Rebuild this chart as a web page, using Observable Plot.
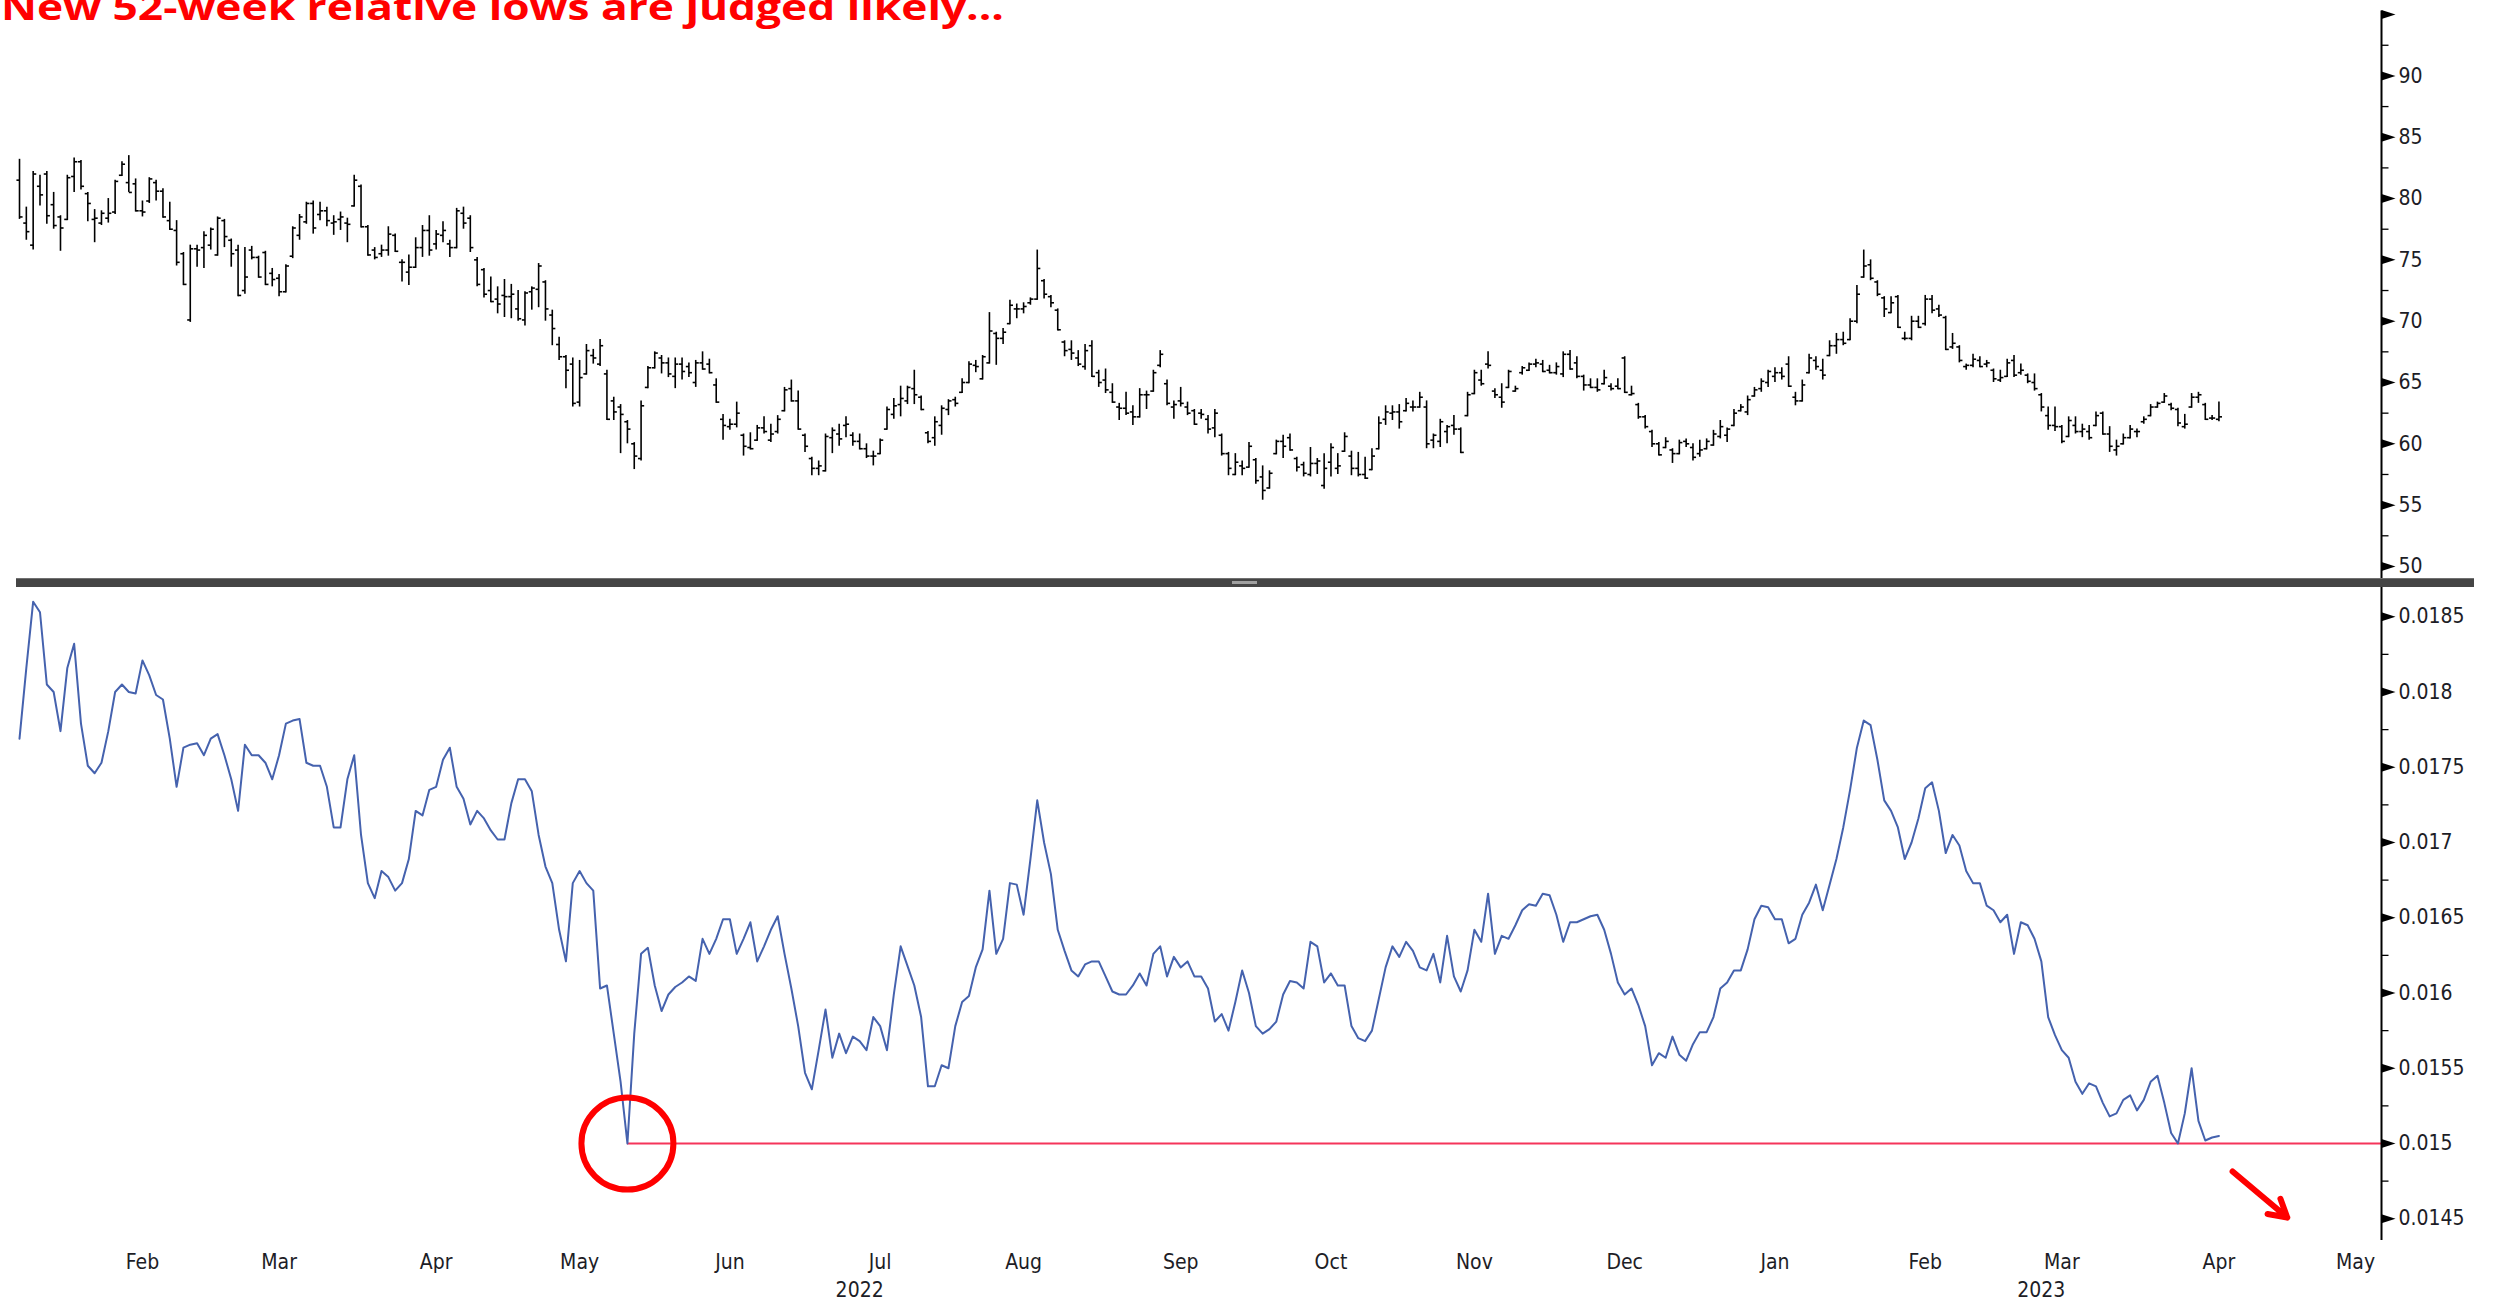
<!DOCTYPE html>
<html>
<head>
<meta charset="utf-8">
<script src="https://cdn.jsdelivr.net/npm/d3@7"></script>
<script src="https://cdn.jsdelivr.net/npm/@observablehq/plot@0.6"></script>
<style>
  html, body { margin: 0; padding: 0; background: #ffffff; }
  #wrap { position: relative; width: 2495px; height: 1304px; overflow: hidden; background: #fff; }
  #topPanel { position: absolute; left: 0; top: 0; }
  #bottomPanel { position: absolute; left: 0; top: 583px; }
  #sep { position: absolute; left: 16px; top: 578px; width: 2458px; height: 9px; background: #454545; border-top: 1px solid #707070; box-sizing: border-box; }
  #grip { position: absolute; left: 1232px; top: 581px; width: 25px; height: 3px; background: #a0a0a0; }
  #title { position: absolute; left: 0; top: 0; }
</style>
</head>
<body>
<div id="wrap">
  <div id="topPanel"></div>
  <div id="bottomPanel"></div>
  <div id="sep"></div>
  <div id="grip"></div>
  <svg id="title" width="1100" height="40"></svg>
</div>
<script>
// ---------- DATA ----------
const titleText = "New 52-week relative lows are judged likely...";
const firstDay = "2022-01-06";   // first trading day shown (weekday sequence)

// daily OHLC bars (top panel)
const openP = [
81.5,78.0,76.2,81.0,82.0,79.5,78.5,78.3,81.8,83.0,
80.4,78.3,78.0,78.4,78.9,81.9,81.3,81.2,79.0,79.8,
81.3,80.6,78.2,77.4,75.5,70.1,75.9,76.0,76.2,75.4,
78.2,76.6,75.8,72.5,75.8,75.2,75.6,73.9,73.5,72.4,
75.3,77.0,78.1,79.6,78.7,79.0,78.0,78.3,78.0,79.4,
81.0,77.7,75.8,75.5,75.8,77.0,74.8,74.0,74.4,76.0,
77.4,76.3,77.0,76.3,76.0,78.8,78.4,75.0,74.2,72.5,
71.8,72.1,72.0,71.0,70.1,72.4,72.6,73.2,70.5,68.1,
67.1,66.5,63.4,65.7,67.2,66.5,65.7,63.5,63.0,61.8,
60.0,58.8,64.6,66.2,67.0,66.6,65.5,66.5,66.3,65.0,
66.6,66.5,64.8,62.0,61.4,61.6,60.7,59.7,60.3,61.3,
60.3,61.0,62.7,64.5,63.5,60.7,58.8,58.0,57.8,60.5,
60.8,61.5,60.7,60.2,59.6,59.0,59.2,61.2,62.4,63.2,
63.5,64.5,63.8,60.9,60.5,61.5,62.8,63.6,64.2,65.0,
66.4,65.3,66.6,69.0,68.6,69.8,71.0,71.0,71.5,71.8,
73.3,72.0,70.9,68.3,67.7,67.0,66.3,68.0,65.8,65.2,
64.2,63.0,62.9,62.6,62.2,64.0,64.3,66.4,64.9,63.0,
63.5,63.0,62.7,62.5,62.0,61.3,60.7,59.2,57.5,58.2,
58.1,58.7,57.3,56.4,59.2,60.2,60.5,58.8,58.3,57.5,
58.4,56.6,58.5,58.0,59.4,59.0,58.0,57.5,57.9,59.6,
62.0,62.5,62.6,62.7,63.0,63.0,63.0,60.3,60.2,61.0,
61.5,61.2,62.3,64.1,65.2,66.5,64.3,63.8,64.6,64.3,
65.8,66.0,66.5,66.5,66.0,65.8,65.7,67.3,66.6,65.5,
64.8,64.6,64.9,64.7,64.7,67.0,64.0,63.2,62.2,61.0,
60.0,59.7,59.5,59.2,60.2,59.7,59.2,59.6,59.9,60.6,
60.7,61.5,62.7,62.6,63.9,64.5,65.0,65.5,65.8,66.5,
63.8,63.5,65.8,66.8,66.0,67.2,68.0,68.5,68.5,70.0,
73.6,74.6,73.2,71.9,70.7,72.0,68.6,68.6,70.0,69.8,
71.8,71.0,70.3,67.9,67.9,66.3,66.4,66.8,66.5,66.0,
65.2,65.5,66.8,65.8,65.6,65.0,64.0,62.3,61.5,61.4,
60.6,61.5,61.0,61.0,61.5,62.5,60.8,59.5,60.0,60.5,
61.0,61.8,62.3,63.0,63.4,63.2,62.8,61.4,63.0,63.8,
63.2,62.1,62.0];
const highP = [
83.2,79.3,82.2,81.9,82.2,80.5,78.6,81.9,83.3,83.1,
80.5,79.1,79.0,80.0,81.5,83.0,83.5,81.6,79.8,81.7,
81.5,80.8,79.7,78.2,75.6,76.2,76.2,77.3,77.6,78.5,
78.3,76.7,76.2,76.0,76.1,75.3,75.7,74.3,73.8,74.6,
77.7,78.7,79.7,79.8,79.7,79.3,78.6,78.9,78.4,81.9,
81.1,77.8,76.0,76.2,77.7,77.1,75.0,75.4,76.8,77.8,
78.6,77.4,78.1,76.6,79.2,79.3,78.6,75.2,74.3,73.6,
72.8,73.4,73.0,72.5,72.4,72.8,74.7,73.3,70.9,68.7,
67.2,67.0,66.8,68.1,67.7,68.5,66.0,63.8,63.2,61.9,
60.1,63.5,66.3,67.5,67.2,67.0,67.0,67.0,66.6,66.8,
67.5,66.9,65.3,62.4,62.0,63.4,60.8,60.9,61.5,62.2,
61.6,62.3,64.6,65.2,64.3,60.8,58.9,58.6,60.8,61.3,
61.6,62.2,60.9,60.8,60.0,59.4,60.4,63.0,63.7,64.7,
64.7,66.0,63.9,61.0,62.2,63.1,63.6,63.8,65.3,66.7,
66.8,67.2,70.7,69.1,69.4,71.7,71.4,71.5,71.9,75.8,
73.4,72.1,71.0,68.4,68.4,67.6,68.1,68.4,66.0,66.1,
64.9,63.3,64.2,63.1,64.5,64.3,66.0,67.6,65.2,63.5,
64.6,63.4,62.8,62.8,62.3,62.8,60.8,59.3,59.2,58.6,
60.1,58.8,58.2,57.8,60.3,60.7,60.8,58.9,58.5,59.7,
58.8,59.2,60.0,59.2,60.9,59.4,59.3,58.9,59.6,62.2,
63.1,63.1,63.2,63.7,63.5,64.2,63.5,60.8,62.0,61.5,
62.3,61.3,64.2,66.0,66.0,67.5,64.5,64.9,66.0,64.7,
66.3,66.6,66.9,66.8,66.4,66.6,67.5,67.6,67.1,65.6,
65.3,65.3,66.0,64.9,65.3,67.1,64.7,63.3,62.3,61.1,
60.1,60.5,59.6,60.3,60.4,60.0,60.3,60.4,61.1,61.9,
61.3,62.8,63.2,63.9,64.6,65.3,66.0,66.2,66.2,67.1,
64.2,65.2,67.3,67.1,66.9,68.4,69.0,69.1,70.2,72.9,
75.8,75.0,73.3,72.0,72.0,72.1,69.1,70.4,70.4,72.1,
72.1,71.3,70.4,69.0,68.0,66.5,67.3,67.1,66.8,66.1,
66.0,66.9,67.2,66.5,65.7,65.7,64.1,63.0,63.0,61.5,
62.2,62.2,61.6,61.5,62.6,62.6,61.4,60.3,60.8,61.5,
61.2,62.2,63.2,63.4,64.1,63.3,62.9,62.4,64.1,64.2,
63.3,62.3,63.4];
const lowP = [
78.3,76.6,75.8,79.4,77.9,77.5,75.7,78.2,80.5,80.7,
78.1,76.4,77.8,78.0,78.7,81.8,80.5,78.9,78.5,79.6,
79.8,78.4,77.4,74.5,72.9,69.9,74.4,74.3,75.8,75.3,
76.0,74.4,72.0,72.2,75.0,73.5,72.9,72.8,72.0,72.3,
75.1,76.6,77.9,77.1,78.2,77.7,77.0,77.4,76.4,79.3,
77.6,75.3,75.0,75.2,75.3,75.6,73.2,72.9,74.3,75.2,
75.3,75.8,76.4,75.2,75.9,77.5,75.6,72.8,71.9,71.5,
70.6,70.3,70.2,70.0,69.6,70.9,71.1,70.0,68.0,66.8,
64.5,63.0,63.0,65.6,66.5,66.3,61.9,61.9,59.2,60.0,
57.9,58.6,64.5,66.1,65.7,65.4,64.5,65.2,65.4,64.6,
66.0,65.7,63.3,60.3,61.1,61.3,59.0,59.5,60.2,60.8,
60.1,60.8,62.6,63.4,61.1,59.3,57.4,57.4,57.7,59.2,
59.8,60.5,59.8,59.5,58.8,58.2,59.1,61.1,62.0,62.2,
63.2,63.2,62.7,60.0,59.8,60.7,62.3,63.0,64.1,64.9,
65.8,65.2,66.5,66.4,68.1,69.7,70.2,70.6,71.3,71.7,
71.8,71.1,69.2,67.1,66.8,66.3,66.0,65.4,64.6,64.1,
63.3,61.9,62.3,61.5,62.1,62.8,64.2,66.2,63.1,62.0,
63.0,62.3,61.5,62.0,60.8,60.5,59.0,57.4,57.4,57.4,
58.0,56.7,55.4,56.3,59.1,58.8,59.4,57.7,57.3,57.3,
57.5,56.3,57.3,57.5,59.3,57.4,57.3,57.1,57.8,59.5,
61.5,61.9,61.2,62.6,62.6,62.9,59.6,59.6,59.7,60.0,
60.7,59.2,62.2,64.0,64.7,66.1,63.7,62.9,64.5,64.2,
65.6,65.9,66.2,65.8,65.7,65.6,65.4,66.0,65.3,64.3,
64.5,64.2,64.8,64.3,64.4,64.1,63.9,62.0,61.2,59.7,
59.0,59.6,58.4,59.1,59.7,58.6,58.9,59.5,59.8,60.4,
60.1,61.4,62.6,62.3,63.8,64.2,64.6,65.0,65.2,64.6,
63.1,63.4,65.7,66.0,65.2,67.1,67.3,68.0,68.4,69.8,
73.5,73.3,72.0,70.3,70.6,69.4,68.4,68.4,69.4,69.6,
70.6,70.3,67.6,67.7,66.6,66.0,66.2,66.2,66.2,65.0,
65.0,65.4,65.4,65.6,64.9,64.3,62.6,61.1,61.0,60.0,
60.5,60.8,60.5,60.3,61.4,60.7,59.3,59.0,59.9,60.4,
60.5,61.6,62.2,62.9,63.3,62.7,61.4,61.2,62.9,63.3,
61.9,61.9,61.8];
const closeP = [
78.5,77.3,82.0,80.3,78.6,77.8,77.6,81.7,83.0,81.0,
79.6,78.4,78.8,78.8,81.4,82.8,80.5,79.0,78.9,81.6,
80.6,78.5,77.5,74.8,73.0,75.9,75.8,77.0,77.5,78.4,
76.9,75.5,72.1,73.6,75.2,73.6,73.0,73.4,72.4,74.5,
77.6,78.5,79.6,77.6,79.0,78.2,78.1,78.5,77.9,81.5,
77.7,75.4,75.2,75.8,77.1,75.7,74.8,74.4,76.0,77.4,
75.8,77.1,77.4,76.0,79.0,78.0,76.0,73.0,72.2,71.6,
71.4,72.0,72.2,70.2,72.3,72.7,74.5,71.0,69.4,67.1,
66.0,63.3,65.4,67.6,67.0,68.0,62.0,62.6,62.4,61.2,
59.0,63.1,66.2,67.4,66.6,65.7,66.5,65.9,65.8,66.6,
66.1,65.8,63.4,61.5,61.6,62.5,59.8,59.6,61.3,61.0,
60.8,62.0,64.4,63.5,61.2,59.8,58.0,58.2,60.6,61.1,
60.4,61.6,60.2,59.6,59.0,59.0,60.3,62.8,63.1,63.7,
64.6,64.0,62.8,60.2,61.8,62.9,63.5,63.3,65.0,66.5,
66.3,67.1,69.2,68.6,69.1,71.3,71.0,71.2,71.8,74.3,
72.2,71.5,69.3,67.6,67.4,66.5,67.6,65.5,65.0,64.4,
63.4,62.9,62.5,62.2,64.0,64.0,65.8,67.3,63.3,63.2,
63.3,62.5,61.6,62.4,61.2,62.5,59.2,58.0,58.5,58.0,
59.8,57.0,56.2,57.6,60.2,59.8,59.5,58.1,57.6,58.4,
58.6,58.0,59.7,58.2,60.6,58.0,57.5,57.2,59.0,61.7,
62.6,62.6,61.8,63.3,63.0,63.8,60.0,60.7,61.8,61.4,
61.2,59.3,64.0,65.8,64.9,66.4,64.0,63.4,65.9,64.5,
66.2,66.5,66.6,65.9,65.8,66.3,67.3,66.1,65.5,64.8,
64.6,64.4,65.4,64.5,64.5,64.2,64.1,62.2,61.4,60.0,
59.1,60.2,59.2,60.1,60.0,58.9,59.5,60.2,60.8,61.4,
61.2,62.5,63.0,63.6,64.4,65.1,65.9,65.8,65.5,64.7,
63.5,64.8,67.0,66.3,65.6,68.0,68.5,68.2,70.0,72.2,
74.5,73.5,72.2,71.0,71.5,69.5,68.6,70.0,69.5,71.8,
70.9,70.5,67.7,68.2,66.8,66.4,66.9,66.3,66.6,65.3,
65.4,66.6,65.6,66.0,65.1,64.5,63.0,61.5,61.4,60.2,
61.9,61.0,61.2,60.5,62.3,60.8,59.8,59.8,60.5,61.2,
61.0,62.0,63.0,63.3,63.9,62.9,61.7,61.6,63.8,64.0,
62.0,62.1,62.2];

// relative performance line (bottom panel)
const relPerf = [
.01769,.01816,.01860,.01853,.01805,.01800,.01774,.01816,.01832,.01779,
.01751,.01746,.01753,.01774,.01800,.01805,.01800,.01799,.01821,.01811,
.01798,.01795,.01769,.01737,.01763,.01765,.01766,.01758,.01769,.01772,
.01758,.01742,.01721,.01765,.01758,.01758,.01753,.01742,.01758,.01779,
.01781,.01782,.01753,.01751,.01751,.01737,.01710,.01710,.01742,.01758,
.01705,.01673,.01663,.01681,.01677,.01668,.01673,.01689,.01721,.01718,
.01735,.01737,.01755,.01763,.01737,.01729,.01712,.01721,.01716,.01708,
.01702,.01702,.01726,.01742,.01742,.01734,.01705,.01684,.01673,.01642,
.01621,.01673,.01681,.01673,.01668,.01603,.01605,.01573,.01541,.01500,
.01573,.01626,.01630,.01605,.01588,.01599,.01604,.01607,.01611,.01608,
.01636,.01626,.01636,.01649,.01649,.01626,.01636,.01647,.01621,.01631,
.01642,.01651,.01626,.01603,.01578,.01547,.01536,.01562,.01589,.01557,
.01573,.01560,.01571,.01568,.01562,.01584,.01578,.01562,.01599,.01631,
.01618,.01605,.01584,.01538,.01538,.01552,.01550,.01578,.01594,.01598,
.01617,.01629,.01668,.01626,.01636,.01673,.01672,.01652,.01689,.01728,
.01700,.01679,.01642,.01628,.01615,.01611,.01619,.01621,.01621,.01611,
.01601,.01599,.01599,.01605,.01613,.01605,.01626,.01631,.01611,.01624,
.01617,.01621,.01611,.01611,.01603,.01581,.01586,.01575,.01594,.01615,
.01600,.01578,.01573,.01576,.01581,.01599,.01608,.01607,.01603,.01634,
.01631,.01607,.01613,.01605,.01605,.01578,.01570,.01568,.01575,.01596,
.01617,.01631,.01624,.01634,.01628,.01617,.01615,.01626,.01607,.01638,
.01611,.01601,.01615,.01642,.01634,.01666,.01626,.01638,.01636,.01645,
.01655,.01659,.01658,.01666,.01665,.01652,.01634,.01647,.01647,.01649,
.01651,.01652,.01642,.01626,.01607,.01599,.01603,.01592,.01578,.01552,
.01560,.01557,.01571,.01559,.01555,.01566,.01574,.01574,.01584,.01603,
.01607,.01615,.01615,.01629,.01649,.01658,.01657,.01649,.01649,.01633,
.01636,.01652,.01660,.01672,.01655,.01672,.01689,.01710,.01735,.01763,
.01781,.01778,.01755,.01728,.01721,.01710,.01689,.01700,.01716,.01736,
.01740,.01721,.01693,.01705,.01698,.01681,.01673,.01673,.01658,.01655,
.01647,.01652,.01626,.01647,.01645,.01636,.01621,.01584,.01572,.01562,
.01557,.01541,.01533,.01540,.01538,.01527,.01518,.01520,.01529,.01532,
.01522,.01529,.01541,.01545,.01527,.01507,.01500,.01520,.01550,.01515,
.01502,.01504,.01505];

// axis ticks
const priceMajor = [50, 55, 60, 65, 70, 75, 80, 85, 90, 95];
const priceLabels = [50, 55, 60, 65, 70, 75, 80, 85, 90];
const priceMinor = [52.5, 57.5, 62.5, 67.5, 72.5, 77.5, 82.5, 87.5, 92.5];
const relMajor = [0.0145, 0.015, 0.0155, 0.016, 0.0165, 0.017, 0.0175, 0.018, 0.0185];
const relMinor = [0.01475, 0.01525, 0.01575, 0.01625, 0.01675, 0.01725, 0.01775, 0.01825];
const monthStarts = ["2022-02-01","2022-03-01","2022-04-01","2022-05-01","2022-06-01","2022-07-01",
  "2022-08-01","2022-09-01","2022-10-01","2022-11-01","2022-12-01","2023-01-01","2023-02-01",
  "2023-03-01","2023-04-01","2023-05-01"];
const yearLabels = [{label: "2022", date: "2022-06-28"}, {label: "2023", date: "2023-02-24"}];
// annotation arrow (dates / values)
const arrowNote = [{from: "2023-04-05", fromV: 0.014814, to: "2023-04-17", toV: 0.014508}];

// ---------- helpers ----------
const days = [];
for (let t = Date.parse(firstDay + "T00:00:00Z"); t <= Date.parse("2023-06-30T00:00:00Z"); t += 864e5) {
  const wd = new Date(t).getUTCDay();
  if (wd !== 0 && wd !== 6) days.push(t);
}
const dayIndex = (s) => d3.bisectLeft(days, Date.parse(s + "T00:00:00Z"));
const fmtMonth = d3.utcFormat("%b");

const bars = closeP.map((c, i) => ({i, open: openP[i], high: highP[i], low: lowP[i], close: c}));
const lowIdx = d3.minIndex(relPerf);
const lowVal = relPerf[lowIdx];
const months = monthStarts.map(s => ({label: fmtMonth(new Date(s + "T00:00:00Z")), pos: dayIndex(s)}));
const years = yearLabels.map(d => ({label: d.label, pos: dayIndex(d.date)}));
const arrows = arrowNote.map(d => ({x1: dayIndex(d.from), y1: d.fromV, x2: dayIndex(d.to), y2: d.toV}));

const W = 2495;
const xDomain = [-0.44, 345.8];
const flag = { draw(ctx) { ctx.moveTo(0, -4.5); ctx.lineTo(14, 0); ctx.lineTo(0, 4.5); ctx.closePath(); } };
const minorTick = { draw(ctx) { ctx.moveTo(0, 0); ctx.lineTo(7, 0); } };
const axisFont = {fontFamily: "DejaVu Sans", fontSize: 21, fill: "#1d1d26"};

const topChart = Plot.plot({
  width: W, height: 583, marginTop: 0, marginBottom: 0, marginLeft: 16, marginRight: 114,
  style: {background: "transparent", overflow: "visible"},
  x: {domain: xDomain, axis: null},
  y: {domain: [48.61, 96.15], axis: null},
  marks: [
    Plot.ruleX(bars, {x: "i", y1: "low", y2: "high", stroke: "#000", strokeWidth: 1.6}),
    Plot.link(bars, {x1: d => d.i - 0.45, x2: "i", y1: "open", y2: "open", stroke: "#000", strokeWidth: 1.6}),
    Plot.link(bars, {x1: "i", x2: d => d.i + 0.45, y1: "close", y2: "close", stroke: "#000", strokeWidth: 1.6}),
    Plot.ruleX([xDomain[1]], {y1: 48.61, y2: 95.3, stroke: "#000", strokeWidth: 2}),
    Plot.dot(priceMajor, {y: d => d, frameAnchor: "right", symbol: flag, fill: "#000", stroke: "none"}),
    Plot.dot(priceMinor, {y: d => d, frameAnchor: "right", symbol: minorTick, fill: "none", stroke: "#000", strokeWidth: 1.3}),
    Plot.text(priceLabels, {y: d => d, text: d => String(d), frameAnchor: "right", textAnchor: "start", lineAnchor: "middle", dx: 17, ...axisFont})
  ]
});

const bottomChart = Plot.plot({
  width: W, height: 721, marginTop: 0, marginBottom: 0, marginLeft: 16, marginRight: 114,
  style: {background: "transparent", overflow: "visible"},
  x: {domain: xDomain, axis: null},
  y: {domain: [0.0139302, 0.0187209], axis: null},
  marks: [
    Plot.ruleY([lowVal], {x1: lowIdx, x2: xDomain[1], stroke: "#f5355a", strokeWidth: 2}),
    Plot.line(relPerf, {x: (d, i) => i, y: d => d, stroke: "#4562ae", strokeWidth: 2}),
    Plot.dot([{i: lowIdx, v: lowVal}], {x: "i", y: "v", r: 46, stroke: "#ff0000", strokeWidth: 6, fill: "none"}),
    Plot.arrow(arrows, {x1: "x1", y1: "y1", x2: "x2", y2: "y2", stroke: "#ff0000", strokeWidth: 6, headLength: 5}),
    Plot.ruleX([xDomain[1]], {y1: 0.014355, y2: 0.018708, stroke: "#000", strokeWidth: 2}),
    Plot.dot(relMajor, {y: d => d, frameAnchor: "right", symbol: flag, fill: "#000", stroke: "none"}),
    Plot.dot(relMinor, {y: d => d, frameAnchor: "right", symbol: minorTick, fill: "none", stroke: "#000", strokeWidth: 1.3}),
    Plot.text(relMajor, {y: d => d, text: d => String(d), frameAnchor: "right", textAnchor: "start", lineAnchor: "middle", dx: 17, ...axisFont}),
    Plot.text(months, {x: "pos", text: "label", frameAnchor: "bottom", textAnchor: "middle", lineAnchor: "middle", dy: -42, ...axisFont}),
    Plot.text(years, {x: "pos", text: "label", frameAnchor: "bottom", textAnchor: "middle", lineAnchor: "middle", dy: -14, ...axisFont})
  ]
});

document.getElementById("topPanel").appendChild(topChart);
document.getElementById("bottomPanel").appendChild(bottomChart);

// slightly condensed axis lettering
document.querySelectorAll("#topPanel text, #bottomPanel text").forEach(t => {
  const w = t.getComputedTextLength();
  if (w > 0) {
    t.setAttribute("textLength", (w * 0.9).toFixed(1));
    t.setAttribute("lengthAdjust", "spacingAndGlyphs");
  }
});

// title
const ts = d3.select("#title");
ts.append("text")
  .attr("x", 1).attr("y", 19.5)
  .attr("font-family", "Open Sans, Noto Sans, sans-serif")
  .attr("font-weight", 700)
  .attr("font-size", 35)
  .attr("fill", "#ff0000")
  .attr("textLength", 1003)
  .attr("lengthAdjust", "spacingAndGlyphs")
  .text(titleText);
</script>
</body>
</html>
